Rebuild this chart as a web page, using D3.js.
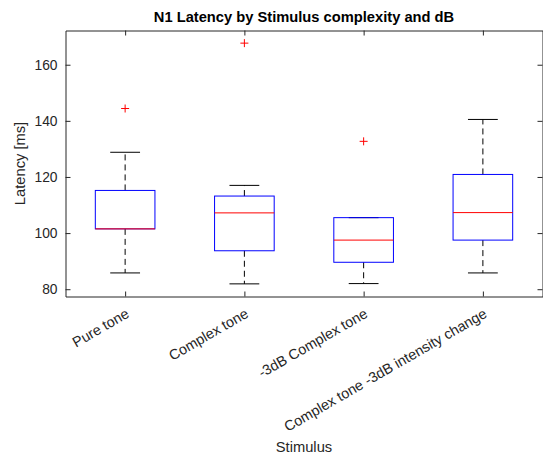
<!DOCTYPE html>
<html>
<head>
<meta charset="utf-8">
<script src="https://cdn.jsdelivr.net/npm/d3@7"></script>
<style>
  html, body { margin: 0; padding: 0; background: #fff; }
  svg { display: block; font-family: "Liberation Sans", Arial, Helvetica, sans-serif; }
</style>
</head>
<body>
<svg id="chart" width="543" height="458"></svg>
<script>
// Box plot summary per stimulus condition (latency in ms)
const categories = ["Pure tone", "Complex tone", "-3dB Complex tone", "Complex tone -3dB intensity change"];
const whiskerLow  = [85.8, 81.9, 82.0, 85.8];
const quartile1   = [101.5, 93.7, 89.6, 97.5];
const medians     = [101.5, 107.2, 97.5, 107.3];
const quartile3   = [115.2, 113.2, 105.5, 120.9];
const whiskerHigh = [128.8, 117.0, 105.5, 140.5];
const outliers    = [[144.4], [167.7], [132.7], []];
const yTicks      = [80, 100, 120, 140, 160];

const svg = d3.select("#chart");
const margin = { left: 65.5, right: 542.5, top: 30.5, bottom: 296.5 };
const axisColor = "#262626";

const x = d3.scaleLinear().domain([0.5, 4.5]).range([margin.left, margin.right]);
const y = d3.scaleLinear().domain([77.4, 172.2]).range([margin.bottom, margin.top]);

const idx = d3.range(categories.length);
const pos = i => x(i + 1);

// Axes (box with ticks pointing inward on all four sides)
const tickLen = 5;
const yAxisLeft = d3.axisLeft(y).tickValues(yTicks).tickSizeInner(-tickLen).tickSizeOuter(0).tickPadding(8);
const yAxisRight = d3.axisRight(y).tickValues(yTicks).tickSizeInner(-tickLen).tickSizeOuter(0).tickFormat("");
const xAxisBottom = d3.axisBottom(x).tickValues([1, 2, 3, 4]).tickSizeInner(-tickLen).tickSizeOuter(0).tickFormat("");
const xAxisTop = d3.axisTop(x).tickValues([1, 2, 3, 4]).tickSizeInner(-tickLen).tickSizeOuter(0).tickFormat("");

const gL = svg.append("g").attr("transform", `translate(${margin.left},0)`).call(yAxisLeft);
const gR = svg.append("g").attr("transform", `translate(${margin.right},0)`).call(yAxisRight);
const gB = svg.append("g").attr("transform", `translate(0,${margin.bottom})`).call(xAxisBottom);
const gT = svg.append("g").attr("transform", `translate(0,${margin.top})`).call(xAxisTop);

[gL, gR, gB, gT].forEach(g => {
  g.selectAll("path.domain").attr("stroke", axisColor).attr("stroke-width", 1);
  g.selectAll(".tick line").attr("stroke", axisColor).attr("stroke-width", 1);
});
gL.selectAll(".tick text")
  .attr("fill", axisColor)
  .style("font-size", "13.8px")
  .style("font-family", "'Liberation Sans', Arial, sans-serif");

// Rotated category labels
svg.append("g").selectAll("text")
  .data(idx)
  .join("text")
  .attr("transform", i => `translate(${pos(i) + 5},${margin.bottom + 20}) rotate(-30)`)
  .attr("text-anchor", "end")
  .attr("fill", axisColor)
  .style("font-size", "14.4px")
  .text(i => categories[i]);

// Box plot marks
const plot = svg.append("g");
const boxHalf = x(1.25) - x(1);
const capHalf = x(1.125) - x(1);

idx.forEach(i => {
  const cx = pos(i);
  // whiskers (dashed)
  plot.append("line")
    .attr("x1", cx).attr("x2", cx)
    .attr("y1", y(quartile3[i])).attr("y2", y(whiskerHigh[i]))
    .attr("stroke", "#000").attr("stroke-width", 1).attr("stroke-dasharray", "6,4");
  plot.append("line")
    .attr("x1", cx).attr("x2", cx)
    .attr("y1", y(quartile1[i])).attr("y2", y(whiskerLow[i]))
    .attr("stroke", "#000").attr("stroke-width", 1).attr("stroke-dasharray", "6,4");
  // whisker caps
  [whiskerHigh[i], whiskerLow[i]].forEach(v => {
    plot.append("line")
      .attr("x1", cx - capHalf).attr("x2", cx + capHalf)
      .attr("y1", y(v)).attr("y2", y(v))
      .attr("stroke", "#000").attr("stroke-width", 1);
  });
  // box
  plot.append("rect")
    .attr("x", cx - boxHalf).attr("width", 2 * boxHalf)
    .attr("y", y(quartile3[i])).attr("height", y(quartile1[i]) - y(quartile3[i]))
    .attr("fill", "none").attr("stroke", "#0000ff").attr("stroke-width", 1);
  // median
  plot.append("line")
    .attr("x1", cx - boxHalf).attr("x2", cx + boxHalf)
    .attr("y1", y(medians[i])).attr("y2", y(medians[i]))
    .attr("stroke", "#ff0000").attr("stroke-width", 1);
  // outliers
  outliers[i].forEach(v => {
    const oy = y(v), s = 4;
    plot.append("path")
      .attr("d", `M${cx - s},${oy}H${cx + s}M${cx},${oy - s}V${oy + s}`)
      .attr("stroke", "#ff0000").attr("stroke-width", 1).attr("fill", "none");
  });
});

// Title and axis labels
svg.append("text")
  .attr("x", (margin.left + margin.right) / 2).attr("y", 22)
  .attr("text-anchor", "middle")
  .attr("fill", "#000")
  .style("font-size", "14.7px").style("font-weight", "bold")
  .text("N1 Latency by Stimulus complexity and dB");

svg.append("text")
  .attr("x", (margin.left + margin.right) / 2).attr("y", 452)
  .attr("text-anchor", "middle")
  .attr("fill", axisColor)
  .style("font-size", "14.7px")
  .text("Stimulus");

svg.append("text")
  .attr("transform", `translate(25,${(margin.top + margin.bottom) / 2}) rotate(-90)`)
  .attr("text-anchor", "middle")
  .attr("fill", axisColor)
  .style("font-size", "14.7px")
  .text("Latency [ms]");
</script>
</body>
</html>
